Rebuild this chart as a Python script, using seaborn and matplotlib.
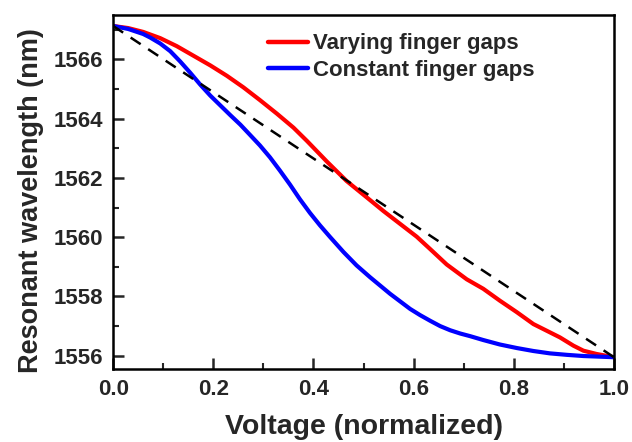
import numpy as np
import pandas as pd
import matplotlib
matplotlib.use("Agg")
import matplotlib.pyplot as plt
from matplotlib.ticker import MultipleLocator
import seaborn as sns

# ---- data ----
varying_v = [0.000, 0.030, 0.060, 0.094, 0.127, 0.160, 0.194, 0.227, 0.260, 0.293,
             0.327, 0.360, 0.387, 0.427, 0.466, 0.506, 0.540, 0.573, 0.606, 0.633,
             0.666, 0.706, 0.739, 0.772, 0.806, 0.839, 0.872, 0.892, 0.919, 0.939,
             0.965, 1.000]
varying_wl = [1567.13, 1567.06, 1566.93, 1566.72, 1566.45, 1566.13, 1565.80, 1565.45,
              1565.06, 1564.63, 1564.17, 1563.70, 1563.25, 1562.55, 1561.90, 1561.35,
              1560.88, 1560.45, 1560.02, 1559.60, 1559.08, 1558.58, 1558.26, 1557.86,
              1557.47, 1557.07, 1556.79, 1556.62, 1556.34, 1556.17, 1556.06, 1555.95]

constant_v = [0.000, 0.030, 0.060, 0.074, 0.094, 0.114, 0.134, 0.154, 0.174, 0.194,
              0.214, 0.234, 0.254, 0.273, 0.293, 0.313, 0.333, 0.353, 0.373, 0.393,
              0.413, 0.433, 0.460, 0.486, 0.513, 0.553, 0.593, 0.613, 0.633, 0.653,
              0.673, 0.693, 0.713, 0.739, 0.772, 0.806, 0.839, 0.872, 0.906, 0.939,
              0.970, 1.000]
constant_wl = [1567.13, 1567.03, 1566.86, 1566.74, 1566.54, 1566.28, 1565.93, 1565.55,
               1565.15, 1564.78, 1564.45, 1564.12, 1563.80, 1563.46, 1563.10, 1562.70,
               1562.25, 1561.78, 1561.28, 1560.82, 1560.40, 1560.01, 1559.50, 1559.05,
               1558.65, 1558.09, 1557.58, 1557.37, 1557.18, 1557.00, 1556.86, 1556.75,
               1556.66, 1556.53, 1556.38, 1556.26, 1556.16, 1556.08, 1556.03, 1555.99,
               1555.97, 1555.95]

linear_v = [0.0, 1.0]
linear_wl = [1567.13, 1555.95]

series_names = ["Varying finger gaps", "Constant finger gaps"]
x_ticks = [0.0, 0.2, 0.4, 0.6, 0.8, 1.0]
y_ticks = [1556, 1558, 1560, 1562, 1564, 1566]

# ---- style ----
sns.set_style("ticks")
plt.rcParams["font.family"] = ["Liberation Sans", "DejaVu Sans"]
plt.rcParams["font.weight"] = "bold"

df = pd.DataFrame({
    "v": varying_v + constant_v,
    "wl": varying_wl + constant_wl,
    "series": [series_names[0]] * len(varying_v) + [series_names[1]] * len(constant_v),
})
df_lin = pd.DataFrame({"v": linear_v, "wl": linear_wl})

fig = plt.figure(figsize=(6.32, 4.42), dpi=100)
ax = fig.add_axes([0.179, 0.165, 0.9715 - 0.179, 0.966 - 0.165])

sns.lineplot(data=df, x="v", y="wl", hue="series", hue_order=series_names,
             palette=["#ff0000", "#0000ff"], lw=3.0, ax=ax, sort=False,
             estimator=None)
# blue above red
lines = ax.get_lines()
if len(lines) >= 2:
    lines[0].set_zorder(2)
    lines[1].set_zorder(2.5)
sns.lineplot(data=df_lin, x="v", y="wl", ax=ax, color="black", lw=1.8,
             linestyle=(0, (4.8, 3.6)), legend=False, zorder=3)

ax.set_xlim(0, 1)
ax.set_ylim(1555.55, 1567.5)
ax.set_xticks(x_ticks)
ax.set_xticklabels([f"{t:.1f}" for t in x_ticks])
ax.set_yticks(y_ticks)
ax.set_yticklabels([str(t) for t in y_ticks])
ax.xaxis.set_minor_locator(MultipleLocator(0.1))
ax.yaxis.set_minor_locator(MultipleLocator(1))
ax.tick_params(which="major", direction="in", length=8, width=1.8, labelsize=16, pad=7,
               top=False, right=False)
ax.tick_params(which="minor", direction="in", length=4.5, width=1.5, top=False, right=False)
for lab in ax.get_xticklabels() + ax.get_yticklabels():
    lab.set_fontweight("bold")
for s in ax.spines.values():
    s.set_linewidth(1.8)
    s.set_color("black")

ax.set_xlabel("Voltage (normalized)", fontsize=20.5, fontweight="bold", labelpad=10)
ax.set_ylabel("Resonant wavelength (nm)", fontsize=19.5, fontweight="bold")
ax.yaxis.set_label_coords(-0.138, 0.477)

leg = ax.legend(loc="upper left", bbox_to_anchor=(0.310, 0.948), frameon=False,
                fontsize=16, handlelength=1.8, handletextpad=0.2, labelspacing=0.25,
                borderpad=0, borderaxespad=0)
for t in leg.get_texts():
    t.set_fontweight("bold")
for h in leg.get_lines():
    h.set_linewidth(3.2)

fig.savefig("out.png", dpi=100)
